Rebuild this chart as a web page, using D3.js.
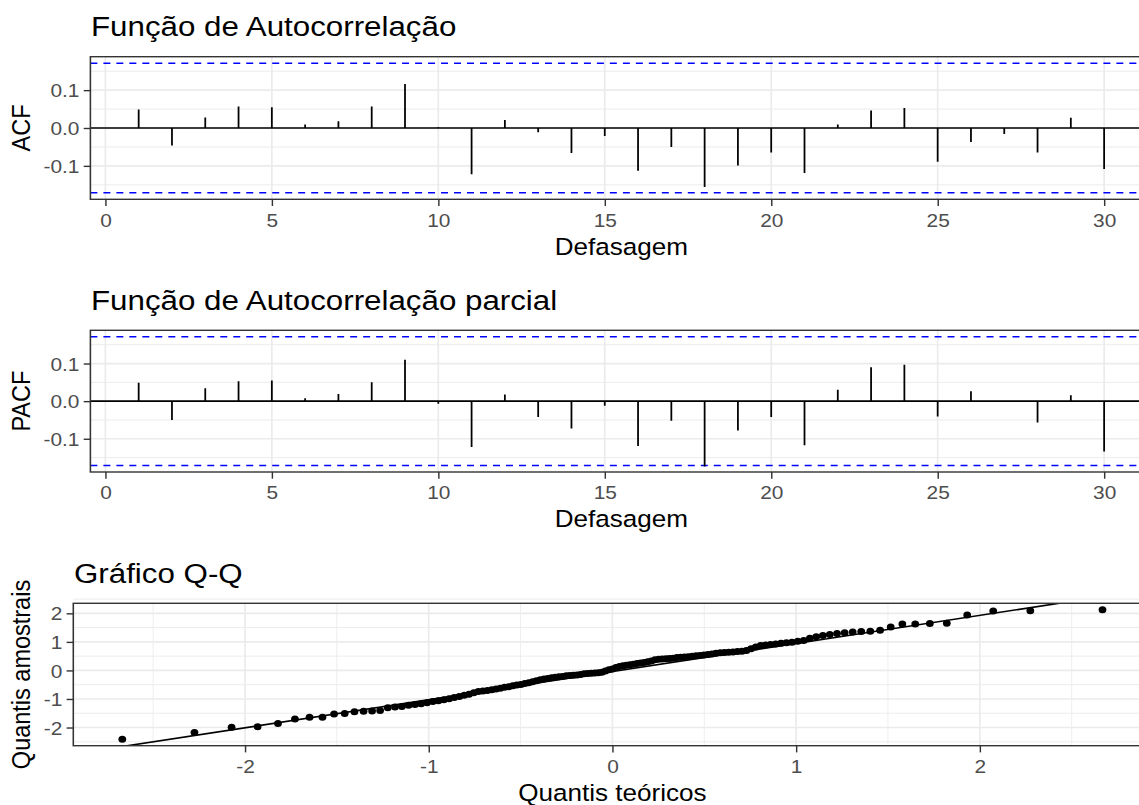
<!DOCTYPE html>
<html>
<head>
<meta charset="utf-8">
<script src="https://cdn.jsdelivr.net/npm/d3@7"></script>
<style>
  body { margin: 0; background: #fff; }
  svg { display: block; font-family: "Liberation Sans", Arial, sans-serif; }
</style>
</head>
<body>
<svg class="chart" width="1139" height="805"></svg>
<script>
var lags = [1, 2, 3, 4, 5, 6, 7, 8, 9, 10, 11, 12, 13, 14, 15,
            16, 17, 18, 19, 20, 21, 22, 23, 24, 25, 26, 27, 28, 29, 30];
var acfValues = [0.049, -0.046, 0.028, 0.057, 0.055, 0.009, 0.018, 0.057, 0.116, 0.002,
                 -0.122, 0.021, -0.011, -0.066, -0.021, -0.113, -0.050, -0.156, -0.099, -0.065,
                 -0.119, 0.009, 0.046, 0.053, -0.089, -0.037, -0.016, -0.065, 0.027, -0.108];
var pacfValues = [0.049, -0.050, 0.034, 0.053, 0.055, 0.008, 0.019, 0.050, 0.110, -0.007,
                  -0.122, 0.018, -0.042, -0.073, -0.012, -0.119, -0.052, -0.174, -0.078, -0.042,
                  -0.117, 0.030, 0.090, 0.097, -0.041, 0.026, -0.001, -0.057, 0.016, -0.134];
var ciLimit = 0.1712;
var lagTicks = [0, 5, 10, 15, 20, 25, 30];
var corrTicks = [-0.1, 0, 0.1];
var corrMinor = [-0.15, -0.05, 0.05, 0.15];

// sorted residuals (131 points)
var qqSample = [
  -2.41, -2.17, -1.99, -1.97, -1.86, -1.70, -1.64, -1.64, -1.53, -1.51,
  -1.45, -1.43, -1.42, -1.40, -1.31, -1.28, -1.26, -1.22, -1.19, -1.17,
  -1.13, -1.09, -1.06, -1.03, -0.99, -0.95, -0.91, -0.87, -0.83, -0.78,
  -0.74, -0.72, -0.70, -0.68, -0.65, -0.62, -0.59, -0.57, -0.54, -0.51,
  -0.49, -0.46, -0.43, -0.40, -0.36, -0.33, -0.30, -0.28, -0.26, -0.24,
  -0.22, -0.21, -0.19, -0.18, -0.17, -0.16, -0.14, -0.12, -0.11, -0.10,
  -0.09, -0.08, -0.06, -0.02, 0.02, 0.05, 0.10, 0.14, 0.16, 0.18,
  0.20, 0.22, 0.24, 0.26, 0.28, 0.30, 0.33, 0.37, 0.39, 0.40,
  0.41, 0.42, 0.43, 0.45, 0.46, 0.47, 0.48, 0.50, 0.51, 0.52,
  0.54, 0.56, 0.58, 0.60, 0.62, 0.63, 0.64, 0.65, 0.66, 0.67,
  0.70, 0.76, 0.82, 0.87, 0.89, 0.91, 0.93, 0.95, 0.97, 0.99,
  1.02, 1.05, 1.13, 1.18, 1.22, 1.26, 1.29, 1.32, 1.35, 1.36,
  1.37, 1.41, 1.52, 1.63, 1.63, 1.64, 1.65, 1.94, 2.085, 2.09,
  2.125
];
var qqTicks = [-2, -1, 0, 1, 2];
var qqMinor = [-2.5, -1.5, -0.5, 0.5, 1.5, 2.5];
var qqLine = {intercept: -0.04, slope: 0.984};

function show() {
    'use strict';

    // the reference is drawn slightly wider than tall, so everything is stretched in x
    var stretch = 1.11;
    var base = 23.5;
    var gridCol = "#ebebeb", inkCol = "#333333", tickTextCol = "#4d4d4d";

    var svg = d3.select(".chart");
    var root = svg.append("g").attr("transform", "scale(" + stretch + ",1)");
    var defs = svg.append("defs");

    function sx(v) { return v / stretch; }
    function padded(ext) { var d = (ext[1] - ext[0]) * 0.05; return [ext[0] - d, ext[1] + d]; }
    var corrFormat = function(d) { return d3.format(".1f")(d).replace("\u2212", "-"); };

    function panel(id, box, x, y, opt) {
        var g = root.append("g");
        var x0 = x.range()[0], x1 = x.range()[1], yb = y.range()[0], yt = y.range()[1];

        defs.append("clipPath").attr("id", id)
            .append("rect").attr("x", x0).attr("y", yt).attr("width", x1 - x0).attr("height", yb - yt);

        // grid
        var grid = g.append("g");
        grid.selectAll("line.ymin").data(opt.yMinor).enter().append("line")
            .attr("x1", x0).attr("x2", x1).attr("y1", y).attr("y2", y)
            .attr("stroke", gridCol).attr("stroke-width", 0.9);
        grid.selectAll("line.xmin").data(opt.xMinor || []).enter().append("line")
            .attr("y1", yt).attr("y2", yb).attr("x1", x).attr("x2", x)
            .attr("stroke", gridCol).attr("stroke-width", 0.8);
        grid.selectAll("line.ymaj").data(opt.yTicks).enter().append("line")
            .attr("x1", x0).attr("x2", x1).attr("y1", y).attr("y2", y)
            .attr("stroke", gridCol).attr("stroke-width", 1.7);
        grid.selectAll("line.xmaj").data(opt.xTicks).enter().append("line")
            .attr("y1", yt).attr("y2", yb).attr("x1", x).attr("x2", x)
            .attr("stroke", gridCol).attr("stroke-width", 1.5);

        var plot = g.append("g").attr("clip-path", "url(#" + id + ")");
        opt.draw(plot);

        g.append("rect")
            .attr("x", x0).attr("y", yt).attr("width", x1 - x0).attr("height", yb - yt)
            .attr("fill", "none").attr("stroke", inkCol).attr("stroke-width", 1.4);

        // axes
        var gx = g.append("g").attr("transform", "translate(0," + yb + ")")
            .call(d3.axisBottom(x).tickValues(opt.xTicks).tickSize(6.7).tickFormat(opt.xFormat));
        gx.attr("font-size", null).attr("font-family", null);
        gx.select(".domain").remove();
        gx.selectAll(".tick line").attr("stroke", inkCol).attr("stroke-width", 1.3);
        gx.selectAll(".tick text").attr("y", 27.4).attr("dy", null)
            .attr("fill", tickTextCol).style("font-size", (base * 0.8) + "px");

        var gy = g.append("g").attr("transform", "translate(" + x0 + ",0)")
            .call(d3.axisLeft(y).tickValues(opt.yTicks).tickSize(sx(6.7)).tickFormat(opt.yFormat));
        gy.attr("font-size", null).attr("font-family", null);
        gy.select(".domain").remove();
        gy.selectAll(".tick line").attr("stroke", inkCol).attr("stroke-width", 1.4);
        gy.selectAll(".tick text").attr("x", sx(-11)).attr("dy", "0.35em")
            .attr("fill", tickTextCol).style("font-size", (base * 0.8) + "px");

        // titles
        g.append("text").attr("x", sx(box.titleX)).attr("y", yt - 20.7)
            .style("font-size", (base * 1.2) + "px").attr("fill", "#000").text(opt.title);
        g.append("text").attr("x", (x0 + x1) / 2).attr("y", yb + 55.5)
            .attr("text-anchor", "middle").style("font-size", base + "px").attr("fill", "#000")
            .text(opt.xTitle);
        g.append("text")
            .attr("transform", "translate(" + sx(30) + "," + ((yt + yb) / 2) + ") rotate(-90)")
            .attr("text-anchor", "middle").style("font-size", base + "px").attr("fill", "#000")
            .text(opt.yTitle);
    }

    function corrPanel(id, values, box, title, yTitle) {
        var x = d3.scaleLinear().domain(padded(d3.extent(lags))).range([sx(box.left), sx(box.right)]);
        var y = d3.scaleLinear().domain(padded([-ciLimit, ciLimit])).range([box.bottom, box.top]);
        panel(id, box, x, y, {
            title: title, xTitle: "Defasagem", yTitle: yTitle,
            xTicks: lagTicks, yTicks: corrTicks, yMinor: corrMinor,
            xFormat: d3.format("d"), yFormat: corrFormat,
            draw: function(p) {
                p.selectAll("line.ci").data([ciLimit, -ciLimit]).enter().append("line")
                    .attr("x1", x.range()[0]).attr("x2", x.range()[1])
                    .attr("y1", y).attr("y2", y)
                    .attr("stroke", "#0000ff").attr("stroke-width", 1.6)
                    .attr("stroke-dasharray", "6.3,5.4");
                p.append("line")
                    .attr("x1", x.range()[0]).attr("x2", x.range()[1])
                    .attr("y1", y(0)).attr("y2", y(0))
                    .attr("stroke", "#000").attr("stroke-width", 1.6);
                p.selectAll("line.seg").data(lags).enter().append("line")
                    .attr("x1", function(d) { return x(d); }).attr("x2", function(d) { return x(d); })
                    .attr("y1", y(0)).attr("y2", function(d, i) { return y(values[i]); })
                    .attr("stroke", "#000").attr("stroke-width", 1.6);
            }
        });
    }

    corrPanel("clipAcf", acfValues, {left: 90.4, right: 1152.4, top: 56.7, bottom: 199.3, titleX: 91},
        "Função de Autocorrelação", "ACF");
    corrPanel("clipPacf", pacfValues, {left: 90.4, right: 1152.4, top: 330.3, bottom: 472, titleX: 91},
        "Função de Autocorrelação parcial", "PACF");

    // Q-Q panel
    var n = qqSample.length;
    var theo = qqSample.map(function(d, i) { return qnorm((i + 0.5) / n); });
    var qqBox = {left: 73.3, right: 1151.5, top: 603.3, bottom: 745.7, titleX: 74};
    var qx = d3.scaleLinear().domain(padded(d3.extent(theo))).range([sx(qqBox.left), sx(qqBox.right)]);
    var qy = d3.scaleLinear().domain(padded(d3.extent(qqSample))).range([qqBox.bottom, qqBox.top]);

    panel("clipQq", qqBox, qx, qy, {
        title: "Gráfico Q-Q", xTitle: "Quantis teóricos", yTitle: "Quantis amostrais",
        xTicks: qqTicks, yTicks: qqTicks, xMinor: qqMinor, yMinor: qqMinor,
        xFormat: String, yFormat: String,
        draw: function(p) {
            var dom = qx.domain();
            p.append("line")
                .attr("x1", qx(dom[0])).attr("x2", qx(dom[1]))
                .attr("y1", qy(qqLine.intercept + qqLine.slope * dom[0]))
                .attr("y2", qy(qqLine.intercept + qqLine.slope * dom[1]))
                .attr("stroke", "#000").attr("stroke-width", 1.6);
            p.selectAll("circle").data(qqSample).enter().append("circle")
                .attr("cx", function(d, i) { return qx(theo[i]); })
                .attr("cy", function(d) { return qy(d); })
                .attr("r", 3.5).attr("fill", "#000");
        }
    });

    // normal quantile (Acklam's approximation) for the theoretical axis
    function qnorm(p) {
        var a = [-3.969683028665376e+01, 2.209460984245205e+02, -2.759285104469687e+02,
                 1.383577518672690e+02, -3.066479806614716e+01, 2.506628277459239e+00];
        var b = [-5.447609879822406e+01, 1.615858368580409e+02, -1.556989798598866e+02,
                 6.680131188771972e+01, -1.328068155288572e+01];
        var c = [-7.784894002430293e-03, -3.223964580411365e-01, -2.400758277161838e+00,
                 -2.549732539343734e+00, 4.374664141464968e+00, 2.938163982698783e+00];
        var d = [7.784695709041462e-03, 3.224671290700398e-01, 2.445134137142996e+00,
                 3.754408661907416e+00];
        var plow = 0.02425, q, r;
        if (p < plow) {
            q = Math.sqrt(-2 * Math.log(p));
            return (((((c[0]*q+c[1])*q+c[2])*q+c[3])*q+c[4])*q+c[5]) / ((((d[0]*q+d[1])*q+d[2])*q+d[3])*q+1);
        }
        if (p > 1 - plow) {
            q = Math.sqrt(-2 * Math.log(1 - p));
            return -(((((c[0]*q+c[1])*q+c[2])*q+c[3])*q+c[4])*q+c[5]) / ((((d[0]*q+d[1])*q+d[2])*q+d[3])*q+1);
        }
        q = p - 0.5; r = q * q;
        return (((((a[0]*r+a[1])*r+a[2])*r+a[3])*r+a[4])*r+a[5])*q / (((((b[0]*r+b[1])*r+b[2])*r+b[3])*r+b[4])*r+1);
    }
}
show();
</script>
</body>
</html>
